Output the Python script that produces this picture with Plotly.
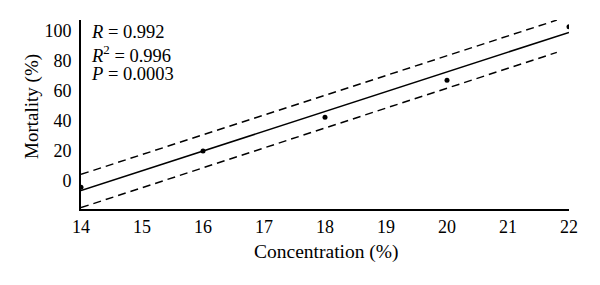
import plotly.graph_objects as go

# Data
conc = [14, 16, 18, 20, 22]
mortality = [-4, 20, 42.5, 67, 102.5]

fit_x = [14, 22]
fit_y = [-6.3, 98.8]

band_x = [14, 21.8]
upper_y = [4.5, 106.9]
lower_y = [-17.6, 85.5]

x_ticks = [14, 15, 16, 17, 18, 19, 20, 21, 22]
y_ticks = [0, 20, 40, 60, 80, 100]

stats_lines = ["<i>R</i> = 0.992", "<i>R</i><sup>2</sup> = 0.996", "<i>P</i> = 0.0003"]

FONT = "Liberation Serif"

fig = go.Figure()
fig.add_trace(go.Scatter(x=band_x, y=upper_y, mode="lines",
                         line=dict(color="black", width=1.5, dash="8px,5px"), showlegend=False))
fig.add_trace(go.Scatter(x=band_x, y=lower_y, mode="lines",
                         line=dict(color="black", width=1.5, dash="8px,5px"), showlegend=False))
fig.add_trace(go.Scatter(x=fit_x, y=fit_y, mode="lines",
                         line=dict(color="black", width=1.5), showlegend=False))
fig.add_trace(go.Scatter(x=conc, y=mortality, mode="markers",
                         marker=dict(color="black", size=5), showlegend=False))

for txt, yp in zip(stats_lines, [0.935, 0.822, 0.712]):
    fig.add_annotation(
        x=0.018, y=yp, xref="paper", yref="paper", xanchor="left", yanchor="middle",
        align="left", showarrow=False, text=txt, borderpad=0,
        font=dict(family=FONT, size=18.5, color="black"),
    )

fig.add_annotation(x=0.504, y=-0.2275, xref="paper", yref="paper",
                   xanchor="center", yanchor="middle", showarrow=False,
                   text="Concentration (%)", font=dict(family=FONT, size=19.5, color="black"))
fig.add_annotation(x=-0.1004, y=0.54, xref="paper", yref="paper",
                   xanchor="center", yanchor="middle", showarrow=False, textangle=-90,
                   text="Mortality (%)", font=dict(family=FONT, size=19, color="black"))

fig.update_layout(
    width=592, height=277,
    margin=dict(l=73, r=31, t=12, b=76),
    paper_bgcolor="white", plot_bgcolor="white",
    font=dict(family=FONT, size=17, color="black"),
    xaxis=dict(range=[14, 22], tickvals=x_ticks, showgrid=False, zeroline=False,
               showline=True, linecolor="black", linewidth=2, ticks="",
               automargin=False, tickfont=dict(size=18)),
    yaxis=dict(range=[-18.5, 107], tickvals=y_ticks, showgrid=False, zeroline=False,
               showline=True, linecolor="black", linewidth=2, ticks="",
               automargin=False, ticklabelstandoff=4, tickfont=dict(size=18)),
)

fig.write_html("out.html")
